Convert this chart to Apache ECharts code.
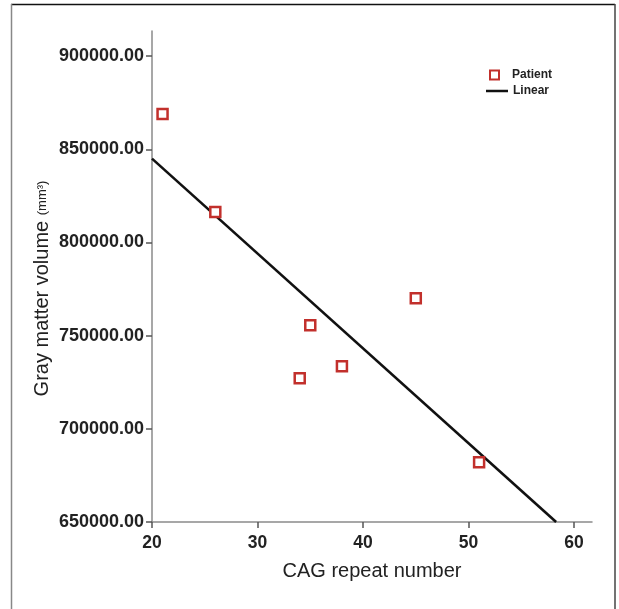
<!DOCTYPE html>
<html>
<head>
<meta charset="utf-8">
<script src="https://cdn.jsdelivr.net/npm/echarts@6/dist/echarts.min.js"></script>
<style>html,body{margin:0;padding:0;background:#fff}#c{width:619px;height:609px}</style>
</head>
<body>
<div id="c"></div>
<script>
// Patient data: CAG repeat number vs gray matter volume (mm^3)
var cagRepeat = [21, 26, 34, 35, 38, 45, 51];
var grayVolume = [868900, 816300, 727200, 755600, 733600, 770100, 682100];
// Linear fit line endpoints
var linearX = [20, 58.3];
var linearY = [845000, 650000];
// Tick values
var xTicks = [20, 30, 40, 50, 60];
var yTicks = [650000, 700000, 750000, 800000, 850000, 900000];

var chart = echarts.init(document.getElementById('c'), null, {renderer: 'canvas'});
var red = '#c2302c';
var font = 'Liberation Sans, Arial, Helvetica, sans-serif';

chart.setOption({
  animation: false,
  backgroundColor: '#fff',
  grid: {left: 152, right: 27, top: 31, bottom: 87, containLabel: false},
  xAxis: {
    type: 'value', min: 20, max: 61.7,
    name: 'CAG repeat number', nameLocation: 'middle', nameGap: 39, nameMoveOverlap: false,
    nameTextStyle: {fontFamily: font, fontSize: 20, color: '#222'},
    axisLine: {show: true, onZero: false, lineStyle: {color: '#8a8a8a', width: 1.5}},
    axisTick: {show: true, length: 6, customValues: xTicks, lineStyle: {color: '#555', width: 1.5}},
    axisLabel: {customValues: xTicks, margin: 12, fontFamily: font, fontSize: 17.5, fontWeight: 'bold', color: '#222'},
    splitLine: {show: false}
  },
  yAxis: {
    type: 'value', min: 650000, max: 913500,
    name: '{a|Gray matter volume }{b|(mm³)}', nameLocation: 'middle', nameGap: 100, nameMoveOverlap: false,
    nameTextStyle: {
      fontFamily: font, fontSize: 20, color: '#222',
      rich: {
        a: {fontFamily: font, fontSize: 20, color: '#222'},
        b: {fontFamily: font, fontSize: 13, color: '#222', padding: [0, 24, 0, 0]}
      }
    },
    axisLine: {show: true, onZero: false, lineStyle: {color: '#8a8a8a', width: 1.5}},
    axisTick: {show: true, length: 6, customValues: yTicks, lineStyle: {color: '#555', width: 1.5}},
    axisLabel: {
      customValues: yTicks, margin: 8, fontFamily: font, fontSize: 18, fontWeight: 'bold', color: '#222',
      formatter: function (v) { return v.toFixed(2); }
    },
    splitLine: {show: false}
  },
  legend: [
    {
      left: 484, top: 64, orient: 'vertical', itemWidth: 9, itemHeight: 9,
      textStyle: {fontFamily: font, fontSize: 12, fontWeight: 'bold', color: '#222', padding: [0, 0, 0, 8]},
      data: [{name: 'Patient', icon: 'rect', itemStyle: {color: '#fff', borderColor: red, borderWidth: 2}}]
    },
    {
      left: 481, top: 80, orient: 'vertical', itemWidth: 22, itemHeight: 2.5,
      textStyle: {fontFamily: font, fontSize: 12, fontWeight: 'bold', color: '#222', padding: [0, 0, 0, 0]},
      data: [{name: 'Linear', icon: 'rect', itemStyle: {color: '#111', borderWidth: 0}}]
    }
  ],
  series: [
    {
      name: 'Linear', type: 'line', symbol: 'none', z: 2,
      lineStyle: {color: '#111', width: 2.6},
      data: linearX.map(function (x, i) { return [x, linearY[i]]; })
    },
    {
      name: 'Patient', type: 'scatter', symbol: 'rect', symbolSize: 10, z: 3,
      itemStyle: {color: '#fff', borderColor: red, borderWidth: 2.5, opacity: 1},
      data: cagRepeat.map(function (x, i) { return [x, grayVolume[i]]; })
    }
  ],
  graphic: [
    {type: 'line', shape: {x1: 11, y1: 4.5, x2: 615, y2: 4.5}, style: {stroke: '#111', lineWidth: 1.5}, silent: true},
    {type: 'line', shape: {x1: 11.5, y1: 4, x2: 11.5, y2: 609}, style: {stroke: '#888', lineWidth: 1.5}, silent: true},
    {type: 'line', shape: {x1: 615, y1: 4, x2: 615, y2: 609}, style: {stroke: '#444', lineWidth: 1.5}, silent: true}
  ]
});
</script>
</body>
</html>
